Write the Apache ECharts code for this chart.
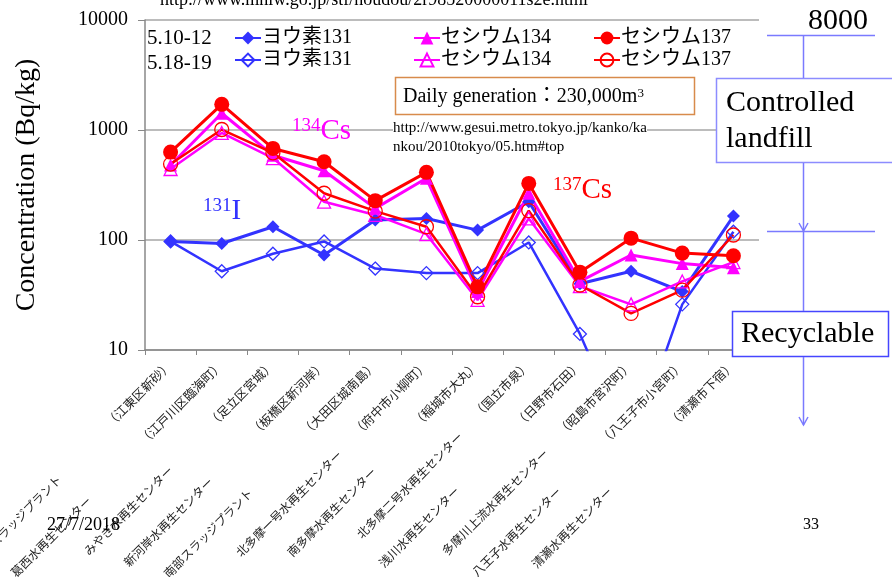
<!DOCTYPE html>
<html><head><meta charset="utf-8">
<script src="https://cdn.jsdelivr.net/npm/echarts@6/dist/echarts.min.js"></script>
<style>html,body{margin:0;padding:0;background:#fff}#c{width:892px;height:577px}</style>
</head><body><div id="c"></div>
<script>
// ---- data ----
const locations = ['（江東区新砂）','（江戸川区臨海町）','（足立区宮城）','（板橋区新河岸）','（大田区城南島）','（府中市小柳町）','（稲城市大丸）','（国立市泉）','（日野市石田）','（昭島市宮沢町）','（八王子市小宮町）','（清瀬市下宿）'];
const plants = ['東部スラッジプラント','葛西水再生センター','みやぎ水再生センター','新河岸水再生センター','南部スラッジプラント','北多摩一号水再生センター','南多摩水再生センター','北多摩二号水再生センター','浅川水再生センター','多摩川上流水再生センター','八王子水再生センター','清瀬水再生センター'];
const yRange = [10, 10000];
const periods = ['5.10-12', '5.18-19'];
const iodine131_A = [97, 93, 132, 73, 152, 157, 123, 223, 40, 52, 34, 165];
const iodine131_B = [97, 52, 75, 97, 55, 50, 50, 95, 14, 1.2, 26, 119];
const cesium134_A = [480, 1420, 590, 426, 194, 364, 34, 266, 42, 73, 61, 56];
const cesium134_B = [442, 940, 556, 223, 169, 113, 28.5, 157, 38, 26, 42, 63];
const cesium137_A = [630, 1710, 680, 515, 228, 412, 37.5, 327, 51, 104, 76, 72];
const cesium137_B = [490, 1010, 620, 266, 183, 132, 30.5, 185, 39, 21.5, 35, 111];

// ---- layout / style ----
const SERIF = "'Liberation Serif','Noto Sans CJK JP',serif";
const BLUE = '#3333ff', MAG = '#ff00ff', RED = '#ff0000';
const plantPads = [156, 186, 143, 159, 175, 121, 145, 95, 172, 119, 173, 173];
const plantRich = {};
plantPads.forEach((p, i) => { plantRich['p' + i] = {padding: [0, p, 0, 0], fontSize: 12, fontFamily: SERIF, color: '#222'}; });

function mk(name, data, color, symbol, filled, size, lw) {
  return {
    name: name, type: 'line', data: data, xAxisIndex: 0,
    symbol: symbol, symbolSize: size, clip: true,
    lineStyle: {color: color, width: lw},
    itemStyle: filled ? {color: color} : {color: 'rgba(255,255,255,0)', borderColor: color, borderWidth: 1.3},
    emphasis: {disabled: true}, animation: false
  };
}
const N = {
  iA: 'ヨウ素131|A', iB: 'ヨウ素131|B',
  c4A: 'セシウム134|A', c4B: 'セシウム134|B',
  c7A: 'セシウム137|A', c7B: 'セシウム137|B'
};
const legendBase = {
  orient: 'vertical', top: 23, itemWidth: 26, itemHeight: 16, itemGap: 2,
  textStyle: {fontFamily: SERIF, fontSize: 20, color: '#000', lineHeight: 20, padding: [0, 0, 0, -4]},
  formatter: n => n.split('|')[0], selectedMode: false
};

const lineC = '#7a7aff';
const txt = (x, y, text, size, color, extra) => Object.assign({
  type: 'text', x: x, y: y, z: 110,
  style: Object.assign({text: text, fontSize: size, fontFamily: SERIF, fill: color || '#000', align: 'left', verticalAlign: 'middle'}, extra || {})
});
const ln = (x1, y1, x2, y2) => ({type: 'line', z: 105, shape: {x1, y1, x2, y2}, style: {stroke: lineC, lineWidth: 1.5}});
const arrow = (x, y) => ({type: 'polyline', z: 105, shape: {points: [[x - 4.5, y - 8], [x, y], [x + 4.5, y - 8]]}, style: {stroke: lineC, lineWidth: 1.5, fill: null}});
const supText = (x, y, sup, main, color) => ({
  type: 'text', x: x, y: y, z: 110,
  style: {text: '{s|' + sup + '}{m|' + main + '}', fill: color, align: 'left', verticalAlign: 'middle',
    rich: {s: {fontSize: 19, fontFamily: SERIF, fill: color, verticalAlign: 'top'}, m: {fontSize: 29, fontFamily: SERIF, fill: color}}}
});

const option = {
  backgroundColor: '#fff',
  animation: false,
  grid: {left: 145, right: 133, top: 20, bottom: 227, containLabel: false, outerBoundsMode: 'none'},
  legend: [
    Object.assign({}, legendBase, {left: 229, data: [N.iA, N.iB]}),
    Object.assign({}, legendBase, {left: 408, data: [N.c4A, N.c4B]}),
    Object.assign({}, legendBase, {left: 588, data: [N.c7A, N.c7B]})
  ],
  xAxis: [{
    type: 'category', data: locations, boundaryGap: true,
    axisLine: {lineStyle: {color: '#888', width: 1.5}},
    axisTick: {show: true, length: 5, lineStyle: {color: '#888'}},
    axisLabel: {rotate: 45, interval: 0, margin: 14, fontSize: 12.5, fontFamily: SERIF, color: '#222'}
  }, {
    type: 'category', data: plants, boundaryGap: true, position: 'bottom',
    axisLine: {show: false}, axisTick: {show: false},
    axisLabel: {rotate: 45, interval: 0, margin: 18,
      formatter: (v, i) => '{p' + i + '|' + v + '}', rich: plantRich}
  }],
  yAxis: {
    type: 'log', logBase: 10, min: yRange[0], max: yRange[1],
    name: 'Concentration (Bq/kg)', nameLocation: 'middle', nameGap: 104,
    nameTextStyle: {fontFamily: SERIF, fontSize: 28, color: '#000'},
    axisLine: {show: true, lineStyle: {color: '#888', width: 1.5}},
    axisTick: {show: true, length: 7, lineStyle: {color: '#888'}},
    axisLabel: {fontFamily: SERIF, fontSize: 20, color: '#000', margin: 17, formatter: v => String(v)},
    splitLine: {show: true, lineStyle: {color: '#a6a6a6', width: 1.5}}
  },
  series: [
    mk(N.iA, iodine131_A, BLUE, 'diamond', true, 13, 3),
    mk(N.iB, iodine131_B, BLUE, 'diamond', false, 13, 2.5),
    mk(N.c4A, cesium134_A, MAG, 'triangle', true, 13, 3),
    mk(N.c4B, cesium134_B, MAG, 'triangle', false, 13, 2.5),
    mk(N.c7A, cesium137_A, RED, 'circle', true, 15, 3),
    mk(N.c7B, cesium137_B, RED, 'circle', false, 14, 2.5)
  ],
  graphic: [
    txt(160, 0, 'http://www.mhlw.go.jp/stf/houdou/2r98520000011s2e.html', 18),
    txt(147, 38, periods[0], 21),
    txt(147, 63, periods[1], 21),
    {type: 'rect', z: 100, shape: {x: 395.5, y: 77.5, width: 299, height: 37}, style: {fill: '#fff', stroke: '#d88b4b', lineWidth: 1.5}},
    {type: 'text', x: 403, y: 97, z: 110, style: {text: '{a|Daily generation：230,000m}{s|3}', align: 'left', verticalAlign: 'middle',
      rich: {a: {fontSize: 20, fontFamily: SERIF, fill: '#000'}, s: {fontSize: 13, fontFamily: SERIF, fill: '#000', verticalAlign: 'top', padding: [0, 0, 4, 0]}}}},
    txt(393, 128, 'http://www.gesui.metro.tokyo.jp/kanko/ka', 15, '#000', {backgroundColor: '#fff'}),
    txt(393, 147, 'nkou/2010tokyo/05.htm#top', 15, '#000', {backgroundColor: '#fff'}),
    supText(292, 131, '134', 'Cs', MAG),
    supText(203, 211, '131', 'I', BLUE),
    supText(553, 190, '137', 'Cs', RED),
    txt(808, 21, '8000', 30),
    ln(767, 35.5, 875, 35.5),
    ln(803.5, 35.5, 803.5, 78),
    {type: 'rect', z: 100, shape: {x: 716.5, y: 78.5, width: 200, height: 84}, style: {fill: '#fff', stroke: '#8c8cff', lineWidth: 1.5}},
    txt(726, 103, 'Controlled', 30),
    txt(726, 139, 'landfill', 30),
    ln(803.5, 163, 803.5, 311),
    arrow(803.5, 231),
    ln(767, 231.5, 875, 231.5),
    {type: 'rect', z: 100, shape: {x: 732.5, y: 311.5, width: 156, height: 45}, style: {fill: '#fff', stroke: '#4646ff', lineWidth: 1.5}},
    txt(741, 334, 'Recyclable', 30),
    ln(803.5, 357, 803.5, 425),
    arrow(803.5, 425),
    txt(47, 525, '27/7/2018', 18),
    txt(803, 525, '33', 16)
  ]
};
const chart = echarts.init(document.getElementById('c'), null, {renderer: 'canvas'});
chart.setOption(option);
</script>
</body></html>
